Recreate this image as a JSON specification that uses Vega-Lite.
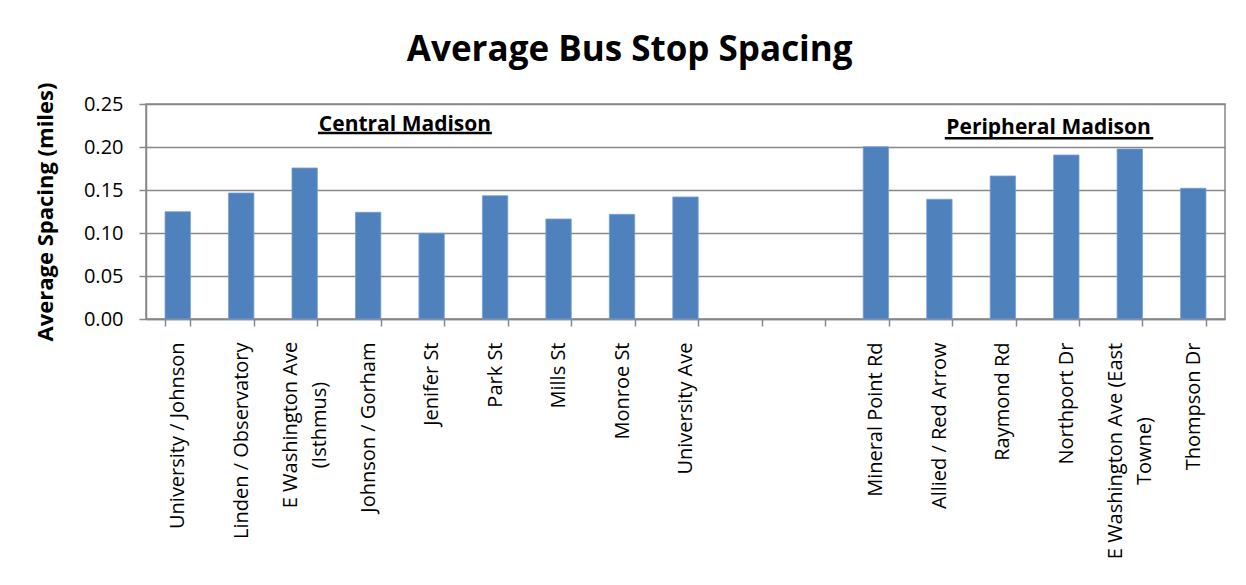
{
  "$schema": "https://vega.github.io/schema/vega-lite/v6.json",
  "width": 1079,
  "height": 215,
  "autosize": {"type": "none"},
  "padding": {"left": 146, "top": 104, "right": 21, "bottom": 266},
  "background": "white",
  "title": {
    "text": "Average Bus Stop Spacing",
    "font": "Open Sans",
    "fontSize": 35,
    "fontWeight": "bold",
    "color": "black",
    "anchor": "middle",
    "frame": "bounds",
    "baseline": "middle",
    "offset": 3,
    "dy": 6
  },
  "config": {
    "font": "Open Sans",
    "view": {"stroke": "#888888", "strokeWidth": 1.5}
  },
  "data": {
    "values": [
      {"route": "University / Johnson", "spacing": 0.1248},
      {"route": "Linden / Observatory", "spacing": 0.1465},
      {"route": "E Washington Ave (Isthmus)", "spacing": 0.1756},
      {"route": "Johnson / Gorham", "spacing": 0.1241},
      {"route": "Jenifer St", "spacing": 0.0997},
      {"route": "Park St", "spacing": 0.1434},
      {"route": "Mills St", "spacing": 0.1163},
      {"route": "Monroe St", "spacing": 0.1217},
      {"route": "University Ave", "spacing": 0.1419},
      {"route": " ", "spacing": null},
      {"route": "  ", "spacing": null},
      {"route": "Mineral Point Rd", "spacing": 0.2003},
      {"route": "Allied / Red Arrow", "spacing": 0.1392},
      {"route": "Raymond Rd", "spacing": 0.1663},
      {"route": "Northport Dr", "spacing": 0.1907},
      {"route": "E Washington Ave (East Towne)", "spacing": 0.1977},
      {"route": "Thompson Dr", "spacing": 0.152}
    ]
  },
  "layer": [
    {
      "mark": {"type": "bar", "color": "#4f81bd", "stroke": "#7a9fd0", "strokeWidth": 0.8},
      "encoding": {
        "x": {
          "field": "route",
          "type": "nominal",
          "sort": null,
          "scale": {
            "domain": ["University / Johnson", "Linden / Observatory", "E Washington Ave (Isthmus)", "Johnson / Gorham", "Jenifer St", "Park St", "Mills St", "Monroe St", "University Ave", " ", "  ", "Mineral Point Rd", "Allied / Red Arrow", "Raymond Rd", "Northport Dr", "E Washington Ave (East Towne)", "Thompson Dr"],
            "paddingInner": 0.6,
            "paddingOuter": 0.3
          },
          "axis": {
            "title": null,
            "labelAngle": 270,
            "labelFont": "Open Sans",
            "labelFontSize": 20,
            "labelColor": "black",
            "labelPadding": 16,
            "labelLimit": 0,
            "labelOverlap": false,
            "labelBound": false,
            "labelExpr": "datum.value == 'E Washington Ave (Isthmus)' || datum.value == 'E Washington Ave (East Towne)' ? '' : datum.value",
            "tickSize": 7,
            "tickBand": "extent",
            "tickColor": "#888888",
            "tickWidth": 1.5,
            "domainColor": "#888888",
            "domainWidth": 1.5,
            "grid": false
          }
        },
        "y": {
          "field": "spacing",
          "type": "quantitative",
          "scale": {"domain": [0, 0.25], "nice": false},
          "axis": {
            "title": "Average Spacing (miles)",
            "titleFont": "Open Sans",
            "titleFontSize": 22,
            "titleFontWeight": "bold",
            "titleColor": "black",
            "titlePadding": 26,
            "values": [0, 0.05, 0.1, 0.15, 0.2, 0.25],
            "format": ".2f",
            "labelFont": "Open Sans",
            "labelFontSize": 20,
            "labelColor": "black",
            "labelPadding": 16,
            "tickSize": 7,
            "tickColor": "#888888",
            "tickWidth": 1.5,
            "domainColor": "#888888",
            "domainWidth": 1.5,
            "gridColor": "#888888",
            "gridWidth": 1.5
          }
        }
      }
    },
    {
      "transform": [{"filter": "datum.route == 'E Washington Ave (Isthmus)'"}],
      "mark": {"type": "text", "text": ["E Washington Ave", "(Isthmus)"], "font": "Open Sans", "fontSize": 20, "color": "black", "angle": 270, "align": "center", "baseline": "middle", "lineHeight": 29, "dy": -14},
      "encoding": {
        "x": {
          "field": "route",
          "type": "nominal",
          "sort": null,
          "scale": {
            "domain": ["University / Johnson", "Linden / Observatory", "E Washington Ave (Isthmus)", "Johnson / Gorham", "Jenifer St", "Park St", "Mills St", "Monroe St", "University Ave", " ", "  ", "Mineral Point Rd", "Allied / Red Arrow", "Raymond Rd", "Northport Dr", "E Washington Ave (East Towne)", "Thompson Dr"],
            "paddingInner": 0.6,
            "paddingOuter": 0.3
          },
          "axis": null
        },
        "y": {"datum": -0.1233, "type": "quantitative"}
      }
    },
    {
      "transform": [{"filter": "datum.route == 'E Washington Ave (East Towne)'"}],
      "mark": {"type": "text", "text": ["E Washington Ave (East", "Towne)"], "font": "Open Sans", "fontSize": 20, "color": "black", "angle": 270, "align": "center", "baseline": "middle", "lineHeight": 29, "dy": -14},
      "encoding": {
        "x": {
          "field": "route",
          "type": "nominal",
          "sort": null,
          "scale": {
            "domain": ["University / Johnson", "Linden / Observatory", "E Washington Ave (Isthmus)", "Johnson / Gorham", "Jenifer St", "Park St", "Mills St", "Monroe St", "University Ave", " ", "  ", "Mineral Point Rd", "Allied / Red Arrow", "Raymond Rd", "Northport Dr", "E Washington Ave (East Towne)", "Thompson Dr"],
            "paddingInner": 0.6,
            "paddingOuter": 0.3
          },
          "axis": null
        },
        "y": {"datum": -0.1535, "type": "quantitative"}
      }
    },
    {
      "data": {"values": [{}]},
      "mark": {"type": "text", "text": "Central Madison", "font": "Open Sans", "fontSize": 21, "fontWeight": "bold", "color": "black", "align": "center", "baseline": "alphabetic"},
      "encoding": {
        "x": {"datum": 4.08, "type": "quantitative", "scale": {"domain": [0, 17]}, "axis": null},
        "y": {"datum": 0.219, "type": "quantitative"}
      }
    },
    {
      "data": {"values": [{}]},
      "mark": {"type": "rule", "color": "black", "strokeWidth": 2.5},
      "encoding": {
        "x": {"datum": 2.71, "type": "quantitative", "scale": {"domain": [0, 17]}, "axis": null},
        "x2": {"datum": 5.45},
        "y": {"datum": 0.2163, "type": "quantitative"}
      }
    },
    {
      "data": {"values": [{}]},
      "mark": {"type": "text", "text": "Peripheral Madison", "font": "Open Sans", "fontSize": 21, "fontWeight": "bold", "color": "black", "align": "center", "baseline": "alphabetic"},
      "encoding": {
        "x": {"datum": 14.22, "type": "quantitative", "scale": {"domain": [0, 17]}, "axis": null},
        "y": {"datum": 0.2153, "type": "quantitative"}
      }
    },
    {
      "data": {"values": [{}]},
      "mark": {"type": "rule", "color": "black", "strokeWidth": 2.5},
      "encoding": {
        "x": {"datum": 12.585, "type": "quantitative", "scale": {"domain": [0, 17]}, "axis": null},
        "x2": {"datum": 15.87},
        "y": {"datum": 0.2101, "type": "quantitative"}
      }
    }
  ],
  "resolve": {"scale": {"x": "independent"}, "axis": {"x": "independent"}}
}
